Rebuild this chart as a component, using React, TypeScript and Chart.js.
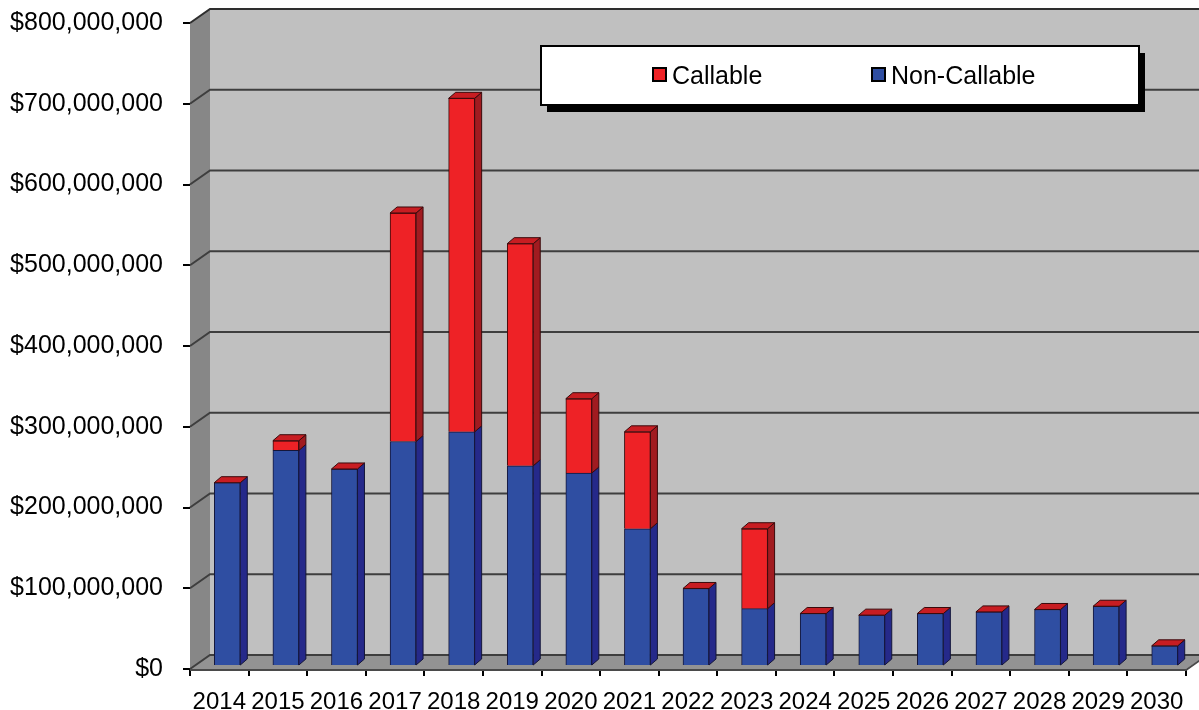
import React, { useEffect, useRef } from 'react';
import { Chart, registerables } from 'chart.js';

Chart.register(...registerables);

const years = ['2014', '2015', '2016', '2017', '2018', '2019', '2020', '2021', '2022', '2023', '2024', '2025', '2026', '2027', '2028', '2029', '2030'];
// values in millions of dollars
const nonCallableM = [227, 267, 244, 278, 290, 248, 239, 170, 96, 71, 65, 63, 65, 67, 70, 74, 25];
const callableM = [0, 12, 0, 283, 413, 275, 92, 120, 0, 99, 0, 0, 0, 0, 0, 0, 0];
const yMax = 800000000;
const yStep = 100000000;

const FONT = "'Liberation Sans', Arial, sans-serif";

const DX = 20, DY = -14; // wall depth
const BX = 8, BY = -3; // bar position in depth
const SX = 7, SY = -6; // bar depth

const BLUE = '#2f4ea2';
const BLUE_SIDE = '#25298a';
const RED = '#ee2226';
const RED_SIDE = '#a11b20';
const RED_TOP = '#c81d22';

function poly(ctx: CanvasRenderingContext2D, pts: number[][], fill: string, stroke?: string) {
  ctx.beginPath();
  ctx.moveTo(pts[0][0], pts[0][1]);
  for (let i = 1; i < pts.length; i++) ctx.lineTo(pts[i][0], pts[i][1]);
  ctx.closePath();
  ctx.fillStyle = fill;
  ctx.fill();
  if (stroke) {
    ctx.strokeStyle = stroke;
    ctx.lineWidth = 1;
    ctx.stroke();
  }
}

const threeD = {
  id: 'threeD',
  beforeDraw(chart: any) {
    const ctx = chart.ctx;
    ctx.save();
    ctx.fillStyle = '#ffffff';
    ctx.fillRect(0, 0, chart.width, chart.height);
    ctx.restore();
  },
  beforeDatasetsDraw(chart: any) {
    const { ctx, chartArea: a, scales } = chart;
    const y = scales.y;
    const W = chart.width;
    ctx.save();
    // back wall
    ctx.fillStyle = '#c0c0c0';
    ctx.fillRect(a.left + DX, a.top + DY, W - (a.left + DX), a.bottom - a.top);
    // side wall
    poly(ctx, [[a.left, a.top], [a.left + DX, a.top + DY], [a.left + DX, a.bottom + DY], [a.left, a.bottom]], '#878787');
    // floor
    poly(ctx, [[a.left, a.bottom], [a.right, a.bottom], [a.right + DX, a.bottom + DY], [a.left + DX, a.bottom + DY]], '#939393');
    // gridlines
    y.ticks.forEach((t: any) => {
      const py = y.getPixelForValue(t.value);
      ctx.beginPath();
      ctx.moveTo(a.left, py);
      ctx.lineTo(a.left + DX, py + DY);
      ctx.lineTo(W, py + DY);
      ctx.strokeStyle = t.value === yMax ? '#2e2e2e' : '#3e3e3e';
      ctx.lineWidth = 2;
      ctx.stroke();
    });
    // floor front edges
    ctx.beginPath();
    ctx.moveTo(a.left, a.bottom + 1);
    ctx.lineTo(a.right, a.bottom + 1);
    ctx.lineTo(a.right + DX, a.bottom + DY + 1);
    ctx.strokeStyle = '#4a4a4a';
    ctx.lineWidth = 2;
    ctx.stroke();
    ctx.restore();
    ctx.save();
    ctx.translate(BX, BY);
  },
  afterDatasetsDraw(chart: any) {
    const ctx = chart.ctx;
    const m0 = chart.getDatasetMeta(0);
    const m1 = chart.getDatasetMeta(1);
    m0.data.forEach((b0: any, i: number) => {
      const b1 = m1.data[i];
      const w = b0.width;
      const left = b0.x - w / 2;
      const right = b0.x + w / 2;
      // blue side
      poly(ctx, [[right, b0.y], [right + SX, b0.y + SY], [right + SX, b0.base + SY], [right, b0.base]], BLUE_SIDE, '#14163a');
      if (b1.base - b1.y > 0.5) {
        poly(ctx, [[right, b1.y], [right + SX, b1.y + SY], [right + SX, b1.base + SY], [right, b1.base]], RED_SIDE, '#3a0a0c');
      }
      // top face
      poly(ctx, [[left, b1.y], [left + SX, b1.y + SY], [right + SX, b1.y + SY], [right, b1.y]], RED_TOP, '#3a0a0c');
    });
    ctx.restore();
  },
  afterDraw(chart: any) {
    const ctx = chart.ctx;
    ctx.save();
    const bx = 541, by = 46, bw = 598, bh = 59;
    ctx.fillStyle = '#000';
    ctx.fillRect(bx + 6, by + 7, bw, bh);
    ctx.fillStyle = '#fff';
    ctx.fillRect(bx, by, bw, bh);
    ctx.strokeStyle = '#000';
    ctx.lineWidth = 2;
    ctx.strokeRect(bx, by, bw, bh);
    const items = [
      { label: chart.data.datasets[1].label, color: RED, mx: 653, tx: 672 },
      { label: chart.data.datasets[0].label, color: BLUE, mx: 872, tx: 891 },
    ];
    ctx.font = `25px ${FONT}`;
    ctx.textBaseline = 'middle';
    ctx.textAlign = 'left';
    items.forEach((it) => {
      ctx.fillStyle = it.color;
      ctx.fillRect(it.mx, 68, 13, 13);
      ctx.lineWidth = 2;
      ctx.strokeStyle = '#000';
      ctx.strokeRect(it.mx, 68, 13, 13);
      ctx.fillStyle = '#000';
      ctx.fillText(it.label, it.tx, 77);
    });
    ctx.restore();
  },
};

export default function App() {
  const ref = useRef<HTMLCanvasElement | null>(null);
  useEffect(() => {
    document.body.style.margin = '0';
    const canvas = ref.current;
    if (!canvas) return;
    Chart.defaults.font.family = FONT;
    const chart = new Chart(canvas, {
      type: 'bar',
      data: {
        labels: years,
        datasets: [
          {
            label: 'Non-Callable',
            data: nonCallableM.map((v) => v * 1000000),
            backgroundColor: BLUE,
            borderColor: '#14163a',
            borderWidth: 1,
            barThickness: 26,
            clip: false,
          } as any,
          {
            label: 'Callable',
            data: callableM.map((v) => v * 1000000),
            backgroundColor: RED,
            borderColor: '#3a0a0c',
            borderWidth: 1,
            barThickness: 26,
            clip: false,
          } as any,
        ],
      },
      options: {
        responsive: false,
        animation: false,
        devicePixelRatio: 1,
        layout: { padding: { top: 23, right: 13, left: 0, bottom: 0 } },
        plugins: { legend: { display: false }, tooltip: { enabled: false } },
        scales: {
          x: {
            stacked: true,
            grid: { drawOnChartArea: false, drawTicks: true, tickLength: 7, color: '#000', offset: true, lineWidth: 2 },
            border: { display: false },
            ticks: { color: '#000', font: { size: 24, family: FONT }, padding: 12, maxRotation: 0, autoSkip: false },
            afterFit: (s: any) => { s.height = 41; s.paddingLeft = 0; s.paddingRight = 0; },
          },
          y: {
            stacked: true,
            min: 0,
            max: yMax,
            grid: { drawOnChartArea: false, drawTicks: true, tickLength: 7, color: '#000', lineWidth: 2 },
            border: { display: false },
            ticks: {
              stepSize: yStep,
              color: '#000',
              padding: 20,
              font: { size: 25, family: FONT },
              callback: (v: any) => '$' + Number(v).toLocaleString('en-US'),
            },
            afterFit: (s: any) => { s.width = 190; s.paddingTop = 0; s.paddingBottom = 0; },
          },
        },
      },
      plugins: [threeD],
    });
    return () => chart.destroy();
  }, []);
  return <canvas ref={ref} width={1199} height={710} style={{ display: 'block' }} />;
}
